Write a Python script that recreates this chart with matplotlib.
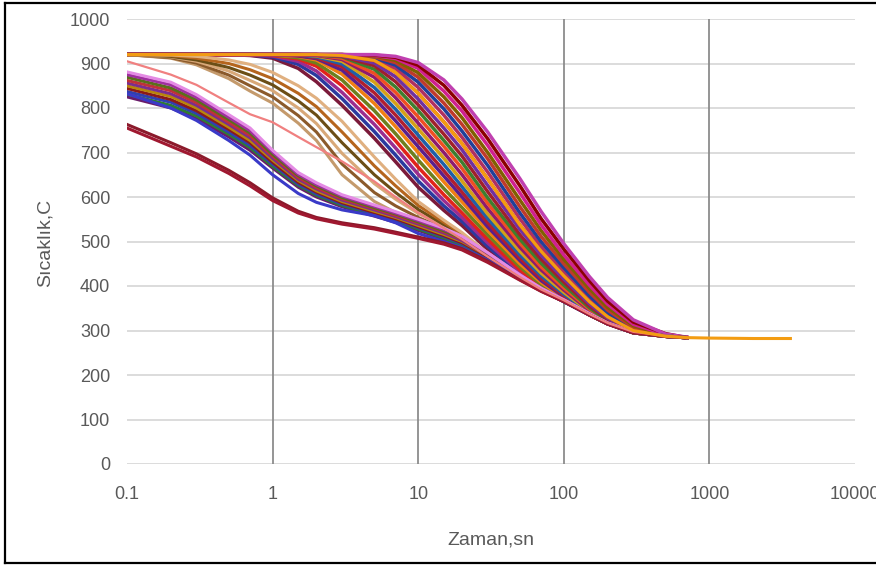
import matplotlib
matplotlib.use("Agg")
import matplotlib.pyplot as plt
from matplotlib.lines import Line2D

# ---------------- data ----------------
time_s = [0.1, 0.2, 0.3, 0.5, 0.7, 1, 1.5, 2, 3, 5, 7, 10, 15, 20, 30, 50, 70,
          100, 150, 200, 300, 500, 700]
time_long = time_s + [1000, 2000, 3600]

x_ticks = [0.1, 1, 10, 100, 1000, 10000]
x_tick_labels = ["0.1", "1", "10", "100", "1000", "10000"]
y_ticks = [0, 100, 200, 300, 400, 500, 600, 700, 800, 900, 1000]

main_curves = [
    [920, 920, 920, 920, 918, 912, 889, 859, 806, 732, 679, 622, 570, 536, 482, 424, 391, 365, 335, 315, 295, 287, 284],
    [920, 920, 920, 920, 919, 915, 898, 873, 821, 747, 694, 636, 580, 545, 489, 427, 393, 365, 335, 315, 295, 287, 284],
    [920, 920, 920, 920, 919, 917, 905, 883, 835, 763, 710, 651, 592, 554, 497, 432, 395, 367, 335, 315, 295, 287, 284],
    [920, 920, 920, 920, 920, 918, 910, 894, 850, 778, 726, 667, 605, 564, 505, 436, 399, 368, 335, 315, 295, 287, 284],
    [920, 920, 920, 920, 920, 919, 913, 901, 863, 794, 742, 683, 619, 576, 515, 443, 403, 371, 335, 315, 295, 287, 284],
    [920, 920, 920, 920, 920, 919, 916, 908, 876, 810, 758, 700, 634, 589, 525, 450, 408, 373, 336, 315, 295, 287, 284],
    [920, 920, 920, 920, 920, 920, 917, 911, 885, 822, 771, 713, 647, 600, 533, 457, 412, 376, 337, 315, 295, 287, 284],
    [920, 920, 920, 920, 920, 920, 918, 913, 893, 834, 784, 726, 659, 611, 542, 463, 417, 378, 338, 315, 295, 287, 284],
    [920, 920, 920, 920, 920, 920, 919, 915, 899, 846, 797, 739, 673, 623, 552, 470, 423, 382, 341, 316, 295, 287, 284],
    [920, 920, 920, 920, 920, 920, 920, 917, 905, 858, 810, 753, 687, 636, 562, 478, 429, 386, 343, 318, 295, 287, 284],
    [920, 920, 920, 920, 920, 920, 920, 918, 909, 869, 823, 766, 700, 650, 574, 487, 436, 391, 345, 319, 295, 287, 284],
    [920, 920, 920, 920, 920, 920, 920, 919, 912, 878, 835, 780, 714, 664, 586, 496, 443, 396, 348, 320, 295, 287, 284],
    [920, 920, 920, 920, 920, 920, 920, 919, 915, 887, 847, 794, 727, 678, 598, 505, 451, 402, 351, 322, 295, 287, 284],
    [920, 920, 920, 920, 920, 920, 920, 920, 916, 895, 859, 807, 741, 692, 612, 515, 460, 409, 355, 325, 297, 287, 284],
    [920, 920, 920, 920, 920, 920, 920, 920, 917, 901, 870, 820, 755, 706, 626, 527, 469, 416, 360, 328, 297, 287, 284],
    [920, 920, 920, 920, 920, 920, 920, 920, 918, 907, 880, 833, 769, 720, 641, 537, 478, 423, 365, 331, 300, 287, 284],
    [920, 920, 920, 920, 920, 920, 920, 920, 919, 910, 889, 846, 784, 734, 656, 551, 488, 432, 372, 336, 302, 287, 284],
    [920, 920, 920, 920, 920, 920, 920, 920, 920, 913, 896, 858, 798, 748, 671, 564, 499, 441, 378, 340, 304, 287, 284],
    [920, 920, 920, 920, 920, 920, 920, 920, 920, 915, 902, 869, 811, 763, 686, 578, 511, 450, 386, 346, 307, 288, 284],
    [920, 920, 920, 920, 920, 920, 920, 920, 920, 917, 907, 879, 825, 778, 700, 593, 524, 460, 394, 352, 311, 290, 284],
    [920, 920, 920, 920, 920, 920, 920, 920, 920, 918, 911, 889, 838, 793, 716, 609, 537, 470, 402, 359, 314, 291, 284],
    [920, 920, 920, 920, 920, 920, 920, 920, 920, 919, 914, 896, 851, 806, 731, 625, 551, 483, 412, 366, 319, 293, 284],
    [920, 920, 920, 920, 920, 920, 920, 920, 920, 920, 916, 902, 863, 820, 746, 641, 567, 495, 421, 374, 324, 292, 285],
]

tan_curves = [
    [920, 912, 897, 866, 838, 811, 766, 727, 650, 590, 565, 545, 524, 503, 465, 420, 392, 368, 337, 317, 297, 288, 284],
    [920, 913, 901, 874, 850, 825, 783, 746, 674, 610, 580, 554, 529, 506, 467, 421, 392, 368, 337, 317, 297, 288, 284],
    [920, 915, 905, 883, 862, 839, 800, 765, 698, 630, 595, 563, 534, 510, 469, 422, 393, 368, 337, 317, 297, 288, 284],
    [920, 916, 908, 891, 874, 852, 816, 784, 722, 650, 610, 572, 538, 513, 470, 422, 393, 369, 338, 317, 297, 288, 284],
    [920, 918, 912, 900, 886, 866, 833, 803, 746, 670, 625, 581, 543, 517, 472, 423, 394, 369, 338, 317, 297, 288, 284],
    [920, 919, 916, 908, 898, 880, 850, 822, 770, 690, 640, 590, 548, 520, 474, 424, 394, 369, 338, 317, 297, 288, 284],
]

lower_bundle = [
    [825, 800, 776, 735, 705, 665, 622, 600, 578, 557, 543, 525, 505, 490, 462, 418, 390, 366, 336, 316, 296, 288, 284],
    [831, 806, 782, 741, 711, 669, 626, 604, 581, 560, 546, 528, 508, 492, 463, 419, 391, 366, 336, 316, 296, 288, 284],
    [837, 813, 788, 746, 716, 674, 629, 607, 584, 563, 548, 531, 511, 495, 465, 420, 391, 367, 336, 316, 296, 288, 284],
    [844, 819, 794, 752, 722, 678, 633, 611, 587, 565, 551, 533, 513, 497, 466, 420, 392, 367, 337, 316, 296, 288, 284],
    [850, 826, 800, 757, 727, 683, 637, 614, 590, 568, 554, 536, 516, 500, 468, 421, 392, 367, 337, 316, 296, 288, 284],
    [856, 832, 806, 763, 733, 687, 640, 618, 593, 571, 556, 539, 519, 502, 469, 422, 393, 368, 337, 317, 297, 288, 284],
    [862, 839, 812, 768, 738, 692, 644, 621, 596, 574, 559, 542, 522, 505, 471, 423, 393, 368, 337, 317, 297, 288, 284],
    [869, 845, 818, 774, 744, 696, 648, 625, 599, 576, 562, 544, 524, 507, 472, 423, 394, 368, 338, 317, 297, 288, 284],
    [875, 852, 824, 779, 749, 701, 651, 628, 602, 579, 564, 547, 527, 510, 474, 424, 395, 369, 338, 317, 297, 288, 284],
    [881, 858, 830, 785, 755, 705, 655, 632, 605, 582, 567, 550, 530, 512, 475, 425, 395, 369, 338, 317, 297, 288, 284],
]

blue_curve = [832, 800, 772, 727, 694, 650, 608, 588, 571, 558, 542, 518, 500, 486, 458, 416, 390, 365, 335, 315, 295, 287, 284]

dark_red_curves = [
    [763, 722, 697, 660, 632, 598, 568, 554, 542, 531, 521, 510, 497, 484, 456, 414, 388, 365, 335, 315, 295, 287, 284],
    [755, 714, 690, 653, 625, 592, 564, 551, 539, 528, 518, 507, 494, 481, 453, 413, 388, 365, 335, 315, 295, 287, 284],
]

pink_curve = [905, 875, 852, 812, 786, 768, 735, 712, 680, 635, 600, 565, 530, 505, 466, 420, 392, 368, 337, 317, 297, 288, 284]

long_curve = [920, 920, 920, 920, 920, 920, 920, 920, 918, 907, 880, 833, 769, 720, 641, 537, 478, 423, 365, 331, 300, 287, 284, 283, 282, 282]

# ---------------- styles ----------------
main_colors = ['#7B1A3A', '#2B3A9F', '#9B2D8F', '#E2231A', '#6E7F1E', '#F07F12',
               '#5A1F8C', '#B01E2F', '#1F5FA8', '#D4A017', '#8E1B6E', '#F04E23',
               '#3E7E2E', '#A0202A', '#7030A0', '#E65C00', '#B03060', '#20409A',
               '#C0392B', '#806000', '#D02090', '#8B0000', '#C040B0']
tan_colors = ['#C49A6C', '#8B5A2B', '#D8A878', '#6B4E16', '#B5651D', '#E0B080']
bundle_colors = ['#6A1B6A', '#2E7D32', '#3040B0', '#8B1A1A', '#B8860B', '#7A2E8E',
                 '#C0303A', '#5A6F1A', '#9F2F9F', '#E48BE4']

text_color = '#595959'
font_family = ['Liberation Sans', 'DejaVu Sans']

fig = plt.figure(figsize=(8.76, 5.66), dpi=100)
ax = fig.add_axes([127 / 876, 102 / 566, 728 / 876, 445 / 566])

ax.set_xscale('log')
ax.set_xlim(0.1, 10000)
ax.set_ylim(0, 1000)

for yv in y_ticks:
    ax.axhline(yv, color='#D9D9D9', lw=1.3, zorder=0)
for xv in x_ticks[1:-1]:
    ax.axvline(xv, color='#8C8C8C', lw=1.3, zorder=0.5)

lw_main = 2.5
lw = 2.2
for i, c in enumerate(main_curves):
    ax.plot(time_s, c, color=main_colors[i % len(main_colors)], lw=lw_main,
            zorder=2, solid_joinstyle='round')
for i, c in enumerate(tan_curves):
    ax.plot(time_s, c, color=tan_colors[i % len(tan_colors)], lw=lw,
            zorder=2, solid_joinstyle='round')
for i, c in enumerate(lower_bundle):
    ax.plot(time_s, c, color=bundle_colors[i % len(bundle_colors)], lw=lw,
            zorder=3, solid_joinstyle='round')
ax.plot(time_s, blue_curve, color='#3A3AC8', lw=lw, zorder=3, solid_joinstyle='round')
for c, col in zip(dark_red_curves, ['#8B1A2B', '#A01830']):
    ax.plot(time_s, c, color=col, lw=lw, zorder=3, solid_joinstyle='round')
ax.plot(time_s, pink_curve, color='#F08080', lw=1.6, zorder=3, solid_joinstyle='round')
ax.plot(time_long, long_curve, color='#F39C12', lw=lw, zorder=4, solid_joinstyle='round')

ax.set_xticks(x_ticks)
ax.set_xticklabels(x_tick_labels)
ax.set_yticks(y_ticks)
ax.set_yticklabels([str(v) for v in y_ticks])
ax.minorticks_off()
ax.tick_params(axis='both', length=0, labelsize=13, labelcolor=text_color)
ax.tick_params(axis='y', pad=12)
ax.tick_params(axis='x', pad=16)
for lab in ax.get_xticklabels() + ax.get_yticklabels():
    lab.set_family(font_family)
for s in ax.spines.values():
    s.set_visible(False)

fig.text(491 / 876, 1 - 540 / 566, 'Zaman,sn', ha='center', va='center',
         fontsize=14, color=text_color, family=font_family)
fig.text(45 / 876, 1 - 243 / 566, 'Sıcaklık,C', ha='center', va='center',
         rotation=90, fontsize=14, color=text_color, family=font_family)

# outer frame of the screenshot
for xs, ys in [([5 / 876, 5 / 876], [3 / 566, 563 / 566]),
               ([5 / 876, 1.0], [563 / 566, 563 / 566]),
               ([5 / 876, 1.0], [3 / 566, 3 / 566])]:
    fig.add_artist(Line2D(xs, ys, transform=fig.transFigure, color='black', lw=1.6))

fig.savefig('out.png', dpi=100)
